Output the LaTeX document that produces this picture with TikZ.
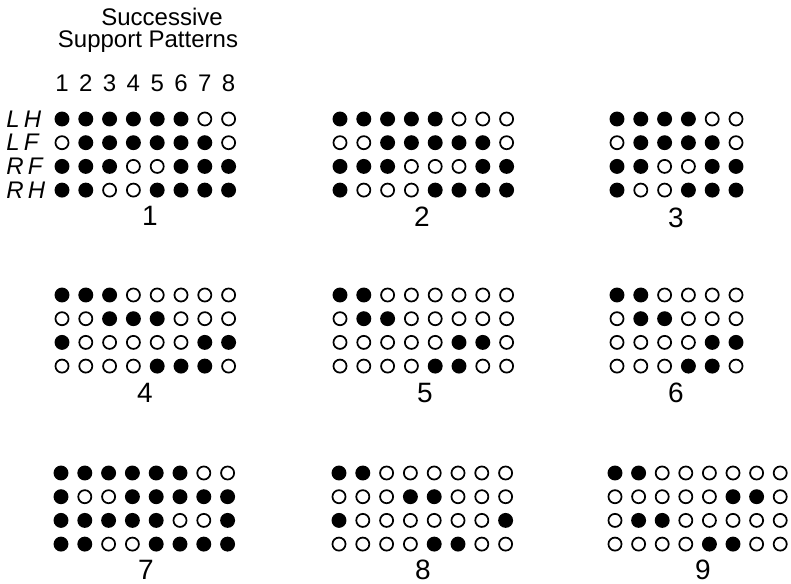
\documentclass[tikz,border=0pt]{standalone}
\usepackage{fontspec}
\setmainfont{Liberation Sans}

\begin{document}
\begin{tikzpicture}[x=0.75pt,y=-0.75pt,
    dot1/.style={fill=black,radius=5.6pt},
    dot0/.style={draw=black,line width=1.3pt,radius=4.9pt},
    head/.style={anchor=base,inner sep=0pt,font=\fontsize{18}{18}\selectfont},
    leg/.style={anchor=west,inner sep=0pt,font=\itshape\fontsize{18}{18}\selectfont\addfontfeature{LetterSpace=18}},
    lbl/.style={inner sep=0pt,font=\fontsize{21}{21}\selectfont}]
  \useasboundingbox (0,0) rectangle (791,584);
  \node[head] (succ) at (162,26) {Successive};
  \node[head] (supp) at (148,48) {Support Patterns};
  \foreach \n [count=\i from 0] in {1,...,8}
    \node[head] (col\n) at (62+\i*23.8,92) {\n};
  \foreach \l [count=\j from 0] in {LH,LF,RF,RH}
    \node[leg] (\l) at (6,119+\j*23.7) {\l};
  % 1
  \foreach \row [count=\j from 0] in {{1,1,1,1,1,1,0,0},{0,1,1,1,1,1,1,0},{1,1,1,0,0,1,1,1},{1,1,0,0,1,1,1,1}}
    \foreach \s [count=\i from 0] in \row
      \path[dot\s] (62+\i*23.8,119+\j*23.7) circle;
  \node[lbl] (p1) at (150,216) {1};
  % 2
  \foreach \row [count=\j from 0] in {{1,1,1,1,1,0,0,0},{0,0,1,1,1,1,1,0},{1,1,1,0,0,0,1,1},{1,0,0,0,1,1,1,1}}
    \foreach \s [count=\i from 0] in \row
      \path[dot\s] (340+\i*23.8,119+\j*23.7) circle;
  \node[lbl] (p2) at (422,217) {2};
  % 3
  \foreach \row [count=\j from 0] in {{1,1,1,1,0,0},{0,1,1,1,1,0},{1,1,0,0,1,1},{1,0,0,1,1,1}}
    \foreach \s [count=\i from 0] in \row
      \path[dot\s] (617+\i*23.8,119+\j*23.7) circle;
  \node[lbl] (p3) at (676,218) {3};
  % 4
  \foreach \row [count=\j from 0] in {{1,1,1,0,0,0,0,0},{0,0,1,1,1,0,0,0},{1,0,0,0,0,0,1,1},{0,0,0,0,1,1,1,0}}
    \foreach \s [count=\i from 0] in \row
      \path[dot\s] (62+\i*23.8,295+\j*23.7) circle;
  \node[lbl] (p4) at (145,393) {4};
  % 5
  \foreach \row [count=\j from 0] in {{1,1,0,0,0,0,0,0},{0,1,1,0,0,0,0,0},{0,0,0,0,0,1,1,0},{0,0,0,0,1,1,0,0}}
    \foreach \s [count=\i from 0] in \row
      \path[dot\s] (340+\i*23.8,295+\j*23.7) circle;
  \node[lbl] (p5) at (425,393) {5};
  % 6
  \foreach \row [count=\j from 0] in {{1,1,0,0,0,0},{0,1,1,0,0,0},{0,0,0,0,1,1},{0,0,0,1,1,0}}
    \foreach \s [count=\i from 0] in \row
      \path[dot\s] (617+\i*23.8,295+\j*23.7) circle;
  \node[lbl] (p6) at (676,393) {6};
  % 7
  \foreach \row [count=\j from 0] in {{1,1,1,1,1,1,0,0},{1,0,0,1,1,1,1,1},{1,1,1,1,1,0,0,1},{1,1,0,0,1,1,1,1}}
    \foreach \s [count=\i from 0] in \row
      \path[dot\s] (61+\i*23.8,473+\j*23.7) circle;
  \node[lbl] (p7) at (146,570) {7};
  % 8
  \foreach \row [count=\j from 0] in {{1,1,0,0,0,0,0,0},{0,0,0,1,1,0,0,0},{1,0,0,0,0,0,0,1},{0,0,0,0,1,1,0,0}}
    \foreach \s [count=\i from 0] in \row
      \path[dot\s] (339+\i*23.8,473+\j*23.7) circle;
  \node[lbl] (p8) at (423,570) {8};
  % 9
  \foreach \row [count=\j from 0] in {{1,1,0,0,0,0,0,0},{0,0,0,0,0,1,1,0},{0,1,1,0,0,0,0,0},{0,0,0,0,1,1,0,0}}
    \foreach \s [count=\i from 0] in \row
      \path[dot\s] (615+\i*23.6,473+\j*23.7) circle;
  \node[lbl] (p9) at (703,570) {9};
\end{tikzpicture}
\end{document}
